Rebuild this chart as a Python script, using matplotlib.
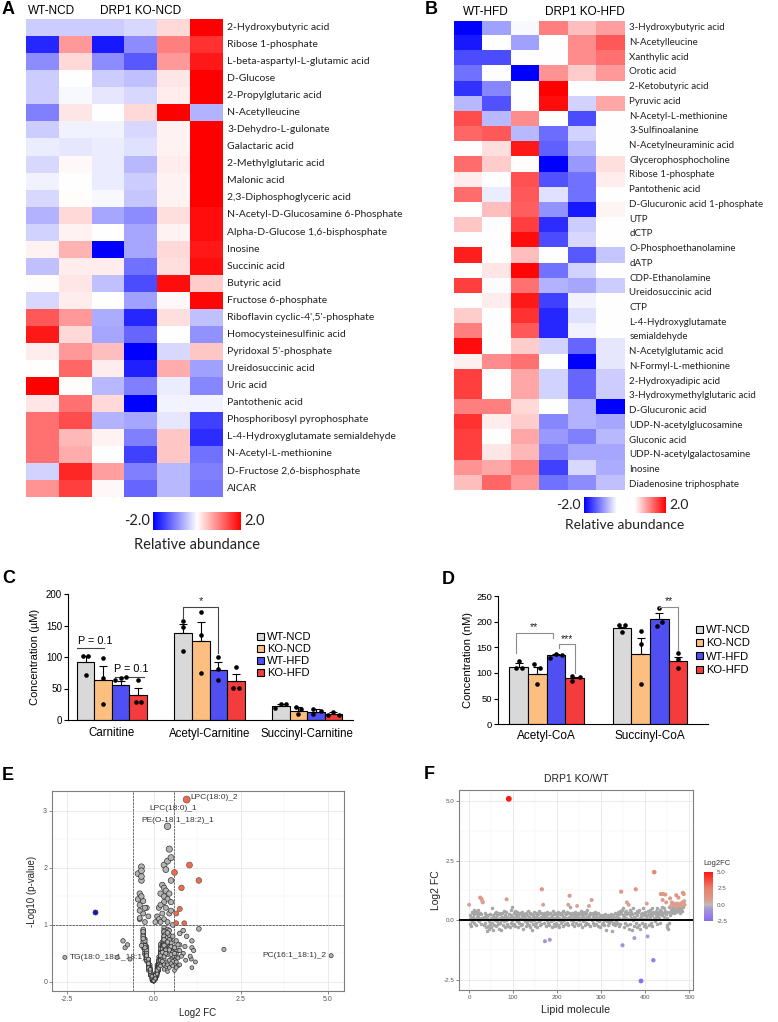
import numpy as np
import matplotlib
matplotlib.use("Agg")
from matplotlib import pyplot as plt
from matplotlib.colors import LinearSegmentedColormap, Normalize
from matplotlib.patches import Patch

plt.rcParams['font.family'] = ['Liberation Sans', 'DejaVu Sans']

# ---------------- data: heatmap A (NCD) ----------------
a_names = ["2-Hydroxybutyric acid", "Ribose 1-phosphate", "L-beta-aspartyl-L-glutamic acid",
           "D-Glucose", "2-Propylglutaric acid", "N-Acetylleucine", "3-Dehydro-L-gulonate",
           "Galactaric acid", "2-Methylglutaric acid", "Malonic acid", "2,3-Diphosphoglyceric acid",
           "N-Acetyl-D-Glucosamine 6-Phosphate", "Alpha-D-Glucose 1,6-bisphosphate", "Inosine",
           "Succinic acid", "Butyric acid", "Fructose 6-phosphate", "Riboflavin cyclic-4',5'-phosphate",
           "Homocysteinesulfinic acid", "Pyridoxal 5'-phosphate", "Ureidosuccinic acid", "Uric acid",
           "Pantothenic acid", "Phosphoribosyl pyrophosphate", "L-4-Hydroxyglutamate semialdehyde",
           "N-Acetyl-L-methionine", "D-Fructose 2,6-bisphosphate", "AICAR"]
a_values = [
    [-0.4, -0.4, -0.4, -0.3, 0.3, 2.0],
    [-1.7, 0.8, -1.8, -0.9, 1.0, 1.6],
    [-0.9, 0.3, -0.9, -1.3, 0.8, 1.8],
    [-0.4, 0.0, -0.4, -0.5, 0.2, 2.0],
    [-0.4, -0.05, -0.2, -0.3, 0.15, 2.0],
    [-1.0, 0.2, 0.0, 0.3, 2.0, -0.6],
    [-0.4, -0.1, -0.1, -0.3, 0.1, 2.0],
    [-0.15, -0.2, -0.15, -0.25, 0.1, 2.0],
    [-0.3, 0.05, -0.15, -0.55, 0.15, 2.0],
    [-0.1, 0.0, -0.15, -0.4, 0.1, 2.0],
    [-0.3, 0.02, -0.05, -0.45, 0.1, 2.0],
    [-0.6, 0.3, -0.7, -0.9, 0.25, 1.9],
    [-0.35, 0.1, 0.0, -0.7, 0.1, 1.9],
    [0.1, 0.6, -2.0, -0.7, 0.3, 1.8],
    [-0.5, 0.15, 0.15, -1.1, 0.25, 1.9],
    [0.03, 0.2, -0.5, -1.4, 1.9, 0.4],
    [-0.3, 0.15, 0.0, -0.75, 0.05, 1.95],
    [1.3, 0.8, -0.65, -1.7, 0.25, -0.5],
    [1.8, 0.3, -0.7, -1.2, 0.0, -0.85],
    [0.15, 0.8, 0.5, -2.0, -0.3, 0.45],
    [0.0, 1.2, 0.15, -1.75, 0.65, -0.75],
    [2.0, 0.02, -0.55, -1.0, -0.15, -0.95],
    [0.2, 1.1, 0.3, -2.0, -0.08, -0.08],
    [1.1, 1.4, -0.6, -0.7, -0.2, -1.5],
    [1.1, 0.55, 0.1, -1.0, 0.45, -1.65],
    [1.1, 0.65, 0.0, -1.5, 0.45, -1.1],
    [-0.35, 1.7, 0.75, -1.0, -0.55, -1.0],
    [0.85, 1.5, 0.05, -1.2, -0.55, -1.05],
]

# ---------------- data: heatmap B (HFD) ----------------
b_names = ["3-Hydroxybutyric acid", "N-Acetylleucine", "Xanthylic acid", "Orotic acid",
           "2-Ketobutyric acid", "Pyruvic acid", "N-Acetyl-L-methionine", "3-Sulfinoalanine",
           "N-Acetylneuraminic acid", "Glycerophosphocholine", "Ribose 1-phosphate",
           "Pantothenic acid", "D-Glucuronic acid 1-phosphate", "UTP", "dCTP",
           "O-Phosphoethanolamine", "dATP", "CDP-Ethanolamine", "Ureidosuccinic acid", "CTP",
           "L-4-Hydroxyglutamate\nsemialdehyde", "N-Acetylglutamic acid", "N-Formyl-L-methionine",
           "2-Hydroxyadipic acid", "3-Hydroxymethylglutaric acid", "D-Glucuronic acid",
           "UDP-N-acetylglucosamine", "Gluconic acid", "UDP-N-acetylgalactosamine", "Inosine",
           "Diadenosine triphosphate"]
b_values = [
    [-2.0, -0.75, -0.05, 1.0, 0.5, 0.75],
    [-1.8, 0.0, -0.75, 0.0, 0.9, 1.3],
    [-1.4, -1.4, 0.0, 0.0, 0.9, 1.1],
    [-1.1, 0.0, -2.0, 0.85, 0.4, 0.8],
    [-1.6, -0.95, 0.0, 2.0, 0.0, 0.0],
    [-0.55, -1.35, 0.0, 1.9, -0.35, 0.7],
    [1.4, -0.55, 0.9, 0.0, -1.4, 0.0],
    [1.2, 1.3, -0.55, -1.15, -0.35, 0.0],
    [0.0, 0.25, 1.8, -1.25, -0.55, 0.0],
    [1.15, 0.4, 0.02, -2.0, -0.8, 0.25],
    [0.15, 0.0, 1.35, -1.35, -1.1, 0.15],
    [1.15, -0.15, 1.3, -0.25, -1.1, 0.0],
    [0.0, 0.5, 1.25, -0.85, -1.8, 0.08],
    [0.45, 0.0, 1.5, -1.65, -0.4, 0.0],
    [0.0, 0.0, 1.9, -1.4, -0.3, 0.0],
    [1.75, 0.0, 0.5, 0.0, -1.3, -0.45],
    [0.0, 0.2, 1.95, -1.1, -0.35, 0.0],
    [1.5, -0.03, 1.1, -0.6, -0.7, -0.4],
    [0.0, 0.15, 1.8, -1.5, -0.1, 0.0],
    [0.4, 0.0, 1.6, -1.7, -0.25, 0.0],
    [1.0, 0.0, 1.3, -1.7, -0.1, 0.0],
    [1.9, 0.0, 0.4, -0.35, -1.2, -0.2],
    [0.12, 0.9, 1.1, 0.0, -2.0, -0.2],
    [1.5, 0.0, 0.7, -0.35, -1.2, -0.4],
    [1.5, 0.0, 0.7, -0.35, -1.2, -0.4],
    [1.0, 1.0, 0.3, 0.0, -0.6, -2.0],
    [1.6, 0.15, 0.4, -0.95, -0.6, -0.7],
    [1.5, 0.0, 0.7, -0.8, -1.0, -0.55],
    [1.5, 0.2, 0.55, -1.0, -0.7, -0.7],
    [0.85, 0.7, 1.0, -1.5, -0.3, -0.65],
    [0.5, 1.2, 0.8, -1.1, -0.9, -0.5],
]

# ---------------- data: bar charts C and D ----------------
conditions = ["WT-NCD", "KO-NCD", "WT-HFD", "KO-HFD"]
cond_colors = ["#d9d9d9", "#fdbf80", "#4f4ff2", "#f43c3c"]

c_groups = ["Carnitine", "Acetyl-Carnitine", "Succinyl-Carnitine"]
c_means = [[92, 63, 56, 39], [138, 126, 79, 62], [23, 15, 12, 9.5]]
c_sems = [[10, 22, 6, 12], [14, 30, 13, 11], [2, 6, 5, 2.5]]
c_dots = [
    [[102, 72, 102], [25, 66, 99], [63, 67, 68], [28, 63, 28]],
    [[157, 110, 148], [74, 172, 135], [63, 100, 81], [51, 84, 51]],
    [[19, 25, 25], [21, 9, 18], [17, 9, 15], [8, 12, 8]],
]

d_groups = ["Acetyl-CoA", "Succinyl-CoA"]
d_means = [[112, 98, 135, 90], [187, 137, 205, 123]]
d_sems = [[7, 13, 2, 3], [3, 32, 12, 9]]
d_dots = [
    [[109, 123, 109], [117, 109, 78], [130, 137, 136], [95, 84, 92]],
    [[194, 179, 194], [181, 157, 78], [192, 227, 199], [138, 127, 109]],
]

# ---------------- data: lipidomics E and F (one value per lipid) ----------------
lipid_log2fc = [
    .65, .2, -.15, .05, -.25, .1, .35, -.05, .15, .3,
    .45, .25, -.1, .4, .05, .3, -.2, .15, .35, 0,
    .2, .45, -.05, .1, .3, .95, .25, -.15, .9, .1,
    .8, .75, .05, -.2, .15, .3, -.1, .05, .2, -.3,
    -.45, .1, -.25, .2, -.05, -.35, 0, .25, -.15, .1,
    -.3, .05, .5, -.1, .2, -.4, .15, -.2, .3, 0,
    .1, -.25, .35, -.05, .2, -.15, .05, .3, -.35, .1,
    .25, -.1, 0, -.4, .15, .3, -.2, .05, .4, -.05,
    .1, -.3, .2, 0, .35, .88, -.15, .15, -.25, .05,
    5.1, .25, -.3, .1, .45, -.1, .2, 0, .55, -.2,
    .15, .3, -.15, .05, .4, -.25, .1, .2, -.05, .35,
    0, -.3, .15, .25, -.1, .05, .3, -.2, .1, .2,
    -.15, .35, .05, -.35, .15, .25, -.05, .1, .3, -.25,
    .05, .2, -.1, .4, 0, -.2, .15, .3, -.3, .1,
    .25, -.05, .05, -.4, .2, .1, -.15, .35, 0, -.25,
    .15, .3, -.1, .05, .2, -.3, .1, .25, -.05, .4,
    0, -.2, .15, .3, -.15, 1.3, .1, .2, .65, -.1,
    .05, .3, -.88, .15, -.25, .2, 0, .35, -.1, .1,
    .25, -.2, .05, -.82, .3, .15, -.05, .2, -.3, .1,
    .4, 0, -.15, .25, .1, -.25, .3, .05, -.1, .2,
    .15, -.2, .35, 0, .1, -.3, .25, .05, -.1, .3,
    .2, -.05, .1, .4, -.25, .15, 0, .3, -.15, .1,
    .25, -.1, .05, .35, -.2, .65, .15, .3, 1.03, .1,
    .55, 0, .2, -.15, .3, .1, -.05, .25, .15, -.25,
    .1, .35, -.1, .2, .05, .6, .3, -.2, .15, 0,
    .25, .1, -.15, .4, .05, -.3, .2, .3, -.05, .15,
    .35, 0, -.2, .25, .1, .3, -.1, .15, .45, .05,
    -.15, .2, .6, .1, .3, -.25, .05, .25, .85, 0,
    .15, -.1, .3, .2, -.2, .1, .35, .05, -.15, .25,
    0, .15, -.25, .3, .1, -.05, .2, .05, -.3, .15,
    .1, -.15, .05, .2, -.1, 0, .15, -.2, .25, .05,
    -.4, .1, -.05, .15, 0, -.2, .2, .05, -.1, .1,
    .15, -.05, 0, .25, -.45, .1, -.15, .2, .05, -.1,
    .1, .3, -.2, 0, .15, -.1, .2, .05, .35, -.25,
    .25, .1, .4, -.15, .3, 1.2, .05, .45, -1.05, .2,
    .5, -.3, .15, .35, -.1, .25, .1, .4, .75, -.2,
    .3, .05, .65, -.35, .2, .45, -.15, .1, .35, -.4,
    .25, 0, .5, -.25, .15, -.75, .3, .1, 1.3, -.1,
    .4, -.3, .2, .05, .35, -.2, .45, .1, -.35, .25,
    -2.55, .15, .3, -.1, .5, .05, -.25, .2, .35, -.15,
    .3, .1, -.3, .7, .2, -.68, .4, .05, -.2, .25,
    .15, .45, -.1, .3, .5, -.25, .2, .35, -1.68, .1,
    2.02, .3, -.05, .4, .15, .25, -.15, .5, .2, .35,
    .1, .3, .45, -.1, .25, 1.1, .4, .2, .55, .85,
    1.1, .3, .5, .15, .4, 1.08, .25, .75, .1, -.3,
    -.2, -.35, .35, -.1, .55, .2, .92, .45, .6, .3,
    .75, .5, .4, .65, .3, .7, .55, .45, .6, .35,
    1.05, .5, .7, .4, .6, .95, .55, .45, .65, .3,
    .7, .5, .6, .4, .75, 1.15, .55, 1.1, .8, .65,
]
lipid_neglog10p = [
    .45, .3, .25, .05, .5, .15, .6, .02, .35, .55,
    .8, .4, .12, 2.73, .08, .7, 1.3, .2, .9, .01,
    .45, .65, .06, .18, .85, 3.2, .5, .3, .62, .1,
    1.65, .85, .04, .4, .28, .62, .15, .1, .38, .7,
    1.9, .22, 1.3, .55, .08, 2.02, .03, .48, .35, .12,
    .85, .07, .72, .2, .42, 1.55, .25, .45, .66, .02,
    .2, .58, .78, .09, .5, .32, .12, .95, 1.78, .16,
    .6, .22, .05, 1.35, .3, .52, .62, .14, .88, .04,
    .26, 1.42, .35, .01, .7, 1.03, .4, .44, .75, .06,
    .46, .56, .9, .24, 2.33, .18, .62, .03, .6, .52,
    .38, .75, .28, .11, .92, .68, .3, .46, .07, .82,
    .02, .6, .32, 1.7, .25, .05, 2.05, .36, .18, .66,
    1.15, .68, .09, 1.95, 1.3, .42, .05, 1.15, .58, .48,
    .13, .52, .3, 2.12, .04, .55, 1.1, .8, 1.2, .21,
    .7, .1, 1.05, 1.25, .4, .27, .33, 1.97, .06, .62,
    .34, 1.65, .16, .08, .58, .78, .14, .64, .03, .74,
    .05, .42, .4, .5, .2, 1.78, .19, .3, 1.03, .26,
    .1, .9, .72, .22, 1.05, .45, .02, 1.6, .12, .28,
    .55, .58, .15, .6, .68, .26, .08, 1.55, .82, .17,
    .85, .03, .38, .46, .15, .65, 1.5, .06, .24, .36,
    .3, .48, .6, .02, .23, .92, .5, .11, .18, .72,
    .42, .06, .2, 1.45, .55, .36, .04, 1.4, .27, .13,
    .62, .14, .07, 1.3, .5, .5, .28, .88, 2.05, .2,
    1.0, .01, 1.35, .3, .64, .16, .05, 1.2, .35, .52,
    .25, .76, .2, .44, .1, 1.92, 1.1, .4, .24, .03,
    .4, .18, .22, 1.05, .09, .74, 1.05, .58, .04, .3,
    .65, .02, .52, .54, .22, .46, .16, .38, 1.2, .12,
    .3, .5, .38, .14, .7, .58, .08, .44, .9, .05,
    .2, .12, .56, .34, .46, .24, .72, .06, .36, .6,
    .03, .33, .6, .78, .11, .07, .48, .13, .66, .26,
    .19, .27, .04, .38, .2, .01, .3, .44, .52, .09,
    1.1, .15, .05, .24, .02, .38, .4, .1, .17, .21,
    .32, .08, .03, .48, 1.45, .2, .34, .36, .12, .23,
    .14, .6, .5, .04, .29, .13, .42, .07, .84, .56,
    .52, .18, .68, .26, .8, .35, .1, .9, .43, .4,
    2.18, .7, .22, .7, .15, .46, .16, .62, 1.28, .55,
    .66, .08, 1.2, 1.85, .34, 1.55, .25, .2, .74, 1.12,
    .58, .02, 1.4, .64, .36, .65, .54, .17, .93, .2,
    .78, .88, .32, .1, .62, .42, .82, .24, 1.5, .4,
    .43, .28, .74, .18, 1.25, .06, .72, .5, .58, .4,
    .62, .22, .8, .55, .36, .4, .7, .12, .5, .45,
    .3, .74, .22, .5, 1.78, .6, .38, .66, 1.23, .16,
    .57, .48, .1, .86, .26, .42, .32, .68, .46, .56,
    .2, .64, .58, .18, .52, .72, .48, .3, .8, .5,
    .6, .4, .62, .24, .7, .4, .36, .65, .14, .76,
    .46, .64, .5, .22, .45, .28, .38, .56, .3, .44,
    .55, .4, .34, .72, .3, .28, .52, .38, .6, .26,
    .45, .48, .42, .3, .2, .8, .36, .25, .35, .22,
    .65, .32, .5, .18, .3, .55, .28, .25, .45, .25,
]
fc_cut = 0.585   # log2(1.5)
p_cut = 1.0      # p = 0.1

# ---------------- figure ----------------
W, H = 778, 1022
fig = plt.figure(figsize=(W / 100, H / 100), dpi=100)


def px_axes(l, t, r, b):
    return fig.add_axes([l / W, 1 - b / H, (r - l) / W, (b - t) / H])


def px_text(x, y, s, **kw):
    kw.setdefault("va", "center")
    fig.text(x / W, 1 - y / H, s, **kw)


heat_cmap = LinearSegmentedColormap.from_list("heat", ["#0000ff", "#ffffff", "#ff0000"])
scale_cmap_b = LinearSegmentedColormap.from_list(
    "heat_gap", [(0, "#0000ff"), (0.4, "#ffffff"), (0.62, "#ffffff"), (1, "#ff0000")])


def draw_heatmap(ax, values, labels, label_pos, fs):
    vals = np.array(values)
    ax.imshow(vals, cmap=heat_cmap, vmin=-2, vmax=2, aspect="auto", interpolation="nearest",
              extent=(0, vals.shape[1], vals.shape[0], 0))
    ax.set_xticks([])
    ax.yaxis.tick_right()
    ax.set_yticks(label_pos)
    ax.set_yticklabels(labels, fontsize=fs, family="Lato", color="#222222")
    ax.tick_params(axis="y", length=0, pad=3)
    ax.set_ylim(vals.shape[0], 0)
    for s in ax.spines.values():
        s.set_visible(False)


def draw_scale(l, t, r, b, cmap, fs, title_y):
    ax = px_axes(l, t, r, b)
    ax.imshow(np.linspace(-2, 2, 256)[None, :], cmap=cmap, vmin=-2, vmax=2, aspect="auto")
    ax.axis("off")
    px_text(l - 3, (t + b) / 2, "-2.0", ha="right", fontsize=fs, family="Lato", color="#222222")
    px_text(r + 3, (t + b) / 2, "2.0", ha="left", fontsize=fs, family="Lato", color="#222222")
    px_text((l + r) / 2, title_y, "Relative abundance", ha="center", fontsize=fs,
            family="Lato", color="#222222")


# A
ax_a = px_axes(26, 19, 223, 497)
draw_heatmap(ax_a, a_values, a_names, np.arange(len(a_names)) + 0.42, 7.5)
px_text(28, 11, "WT-NCD", fontsize=8.5)
px_text(100, 11, "DRP1 KO-NCD", fontsize=8.5)
draw_scale(153, 512, 241, 530, heat_cmap, 10.5, 545)

# B
ax_b = px_axes(454, 20.7, 625, 490)
b_lines = [ln for nm in b_names for ln in nm.split("\n")]
draw_heatmap(ax_b, b_values, b_lines, np.linspace(0.4, 30.55, len(b_lines)), 7.0)
px_text(463, 12, "WT-HFD", fontsize=8.5)
px_text(545, 12, "DRP1 KO-HFD", fontsize=8.5)
draw_scale(584, 497, 666, 513, scale_cmap_b, 10, 525)

# panel letters
for letter, x, y in [("A", 2, 10), ("B", 425, 10), ("C", 2, 578), ("D", 442, 579),
                     ("E", 2, 776), ("F", 424, 774)]:
    px_text(x, y, letter, fontsize=13, fontweight="bold")

bar_w = 0.18


def spread(vals, tol):
    offs = np.zeros(len(vals))
    for i in range(len(vals)):
        near = [j for j in range(len(vals)) if abs(vals[j] - vals[i]) < tol]
        if len(near) > 1:
            offs[i] = (near.index(i) - (len(near) - 1) / 2) * 0.055
    return offs


def draw_bars(ax, groups, means, sems, dots, tol):
    for gi in range(len(groups)):
        for ci in range(len(conditions)):
            x = gi + (ci - 1.5) * bar_w
            m = means[gi][ci]
            ax.bar(x, m, width=bar_w, color=cond_colors[ci], edgecolor="black",
                   linewidth=0.8, zorder=2)
            ax.errorbar(x, m, yerr=[[0], [sems[gi][ci]]], fmt="none", ecolor="black",
                        elinewidth=0.8, capsize=2.6, capthick=0.8, zorder=3)
            vals = dots[gi][ci]
            ax.scatter(x + spread(vals, tol), vals, s=11, color="black", zorder=4,
                       linewidths=0, clip_on=False)
    ax.set_xticks(range(len(groups)))
    ax.set_xticklabels(groups, fontsize=8.3)
    ax.tick_params(axis="x", length=0)
    ax.tick_params(axis="y", labelsize=7, length=3, width=0.8, pad=1.2)
    for s in ["top", "right"]:
        ax.spines[s].set_visible(False)
    for s in ["left", "bottom"]:
        ax.spines[s].set_linewidth(0.8)


def bracket(ax, x1, x2, y, y1, y2, label, color, fs):
    ax.plot([x1, x1, x2, x2], [y1, y, y, y2], color=color, lw=0.8, zorder=5)
    ax.text((x1 + x2) / 2, y + 1, label, ha="center", va="bottom", fontsize=fs, color="#222222")


def bar_x(gi, ci):
    return gi + (ci - 1.5) * bar_w


# C
ax_c = px_axes(68, 594, 353, 720)
draw_bars(ax_c, c_groups, c_means, c_sems, c_dots, 7)
ax_c.set_xlim(-0.45, 2.47)
ax_c.set_ylim(0, 200)
ax_c.set_yticks([0, 50, 100, 150, 200])
ax_c.tick_params(axis="x", pad=5.4)
ax_c.set_ylabel("Concentration (\u00b5M)", fontsize=8)
ax_c.yaxis.set_label_coords(-0.1, 0.5)
bracket(ax_c, bar_x(1, 0), bar_x(1, 2), 180, 162, 106, "*", "#444444", 8)
ax_c.plot([-0.355, -0.08], [114, 114], color="#444444", lw=0.8)
ax_c.text(-0.17, 118, "P = 0.1", ha="center", va="bottom", fontsize=7.8)
ax_c.plot([0.03, 0.33], [69, 69], color="#444444", lw=0.8)
ax_c.text(0.2, 73, "P = 0.1", ha="center", va="bottom", fontsize=7.8)
handles = [Patch(facecolor=c, edgecolor="black", linewidth=0.8) for c in cond_colors]
ax_c.legend(handles, conditions, loc="upper left", bbox_to_anchor=(257 / W, 1 - 632 / H),
            bbox_transform=fig.transFigure, frameon=False, fontsize=8, handlelength=0.6,
            handleheight=0.6, handletextpad=0.3, labelspacing=0.18, borderpad=0,
            borderaxespad=0)

# D
ax_d = px_axes(498, 596, 708, 724.3)
draw_bars(ax_d, d_groups, d_means, d_sems, d_dots, 9)
ax_d.set_xlim(-0.47, 1.56)
ax_d.set_ylim(0, 250)
ax_d.set_yticks([0, 50, 100, 150, 200, 250])
ax_d.tick_params(axis="y", labelsize=6.8)
ax_d.tick_params(axis="x", pad=4.4, labelsize=8.5)
ax_d.set_ylabel("Concentration (nM)", fontsize=8)
ax_d.yaxis.set_label_coords(-0.12, 0.5)
bracket(ax_d, bar_x(0, 0) - 0.03, bar_x(0, 2) - 0.03, 178, 138, 169, "**", "#8c8c8c", 7.5)
bracket(ax_d, bar_x(0, 2) + 0.03, bar_x(0, 3), 156, 148, 99, "***", "#8c8c8c", 7.5)
bracket(ax_d, bar_x(1, 2), bar_x(1, 3), 229, 226, 145, "**", "#8c8c8c", 7.5)
ax_d.legend(handles, conditions, loc="upper left", bbox_to_anchor=(696 / W, 1 - 625 / H),
            bbox_transform=fig.transFigure, frameon=False, fontsize=8, handlelength=0.6,
            handleheight=0.6, handletextpad=0.3, labelspacing=0.3, borderpad=0,
            borderaxespad=0)

fc = np.array(lipid_log2fc)
lp = np.array(lipid_neglog10p)


def gg_axes(ax, xmaj, xmin, ymaj, ymin, xfmt, yfmt, fs):
    ax.set_xticks(xmaj)
    ax.set_xticks(xmin, minor=True)
    ax.set_yticks(ymaj)
    ax.set_yticks(ymin, minor=True)
    ax.set_xticklabels([xfmt.format(v) for v in xmaj])
    ax.set_yticklabels([yfmt.format(v) for v in ymaj])
    ax.grid(which="major", color="#e6e6e6", lw=0.6)
    ax.grid(which="minor", color="#f2f2f2", lw=0.35)
    ax.set_axisbelow(True)
    ax.tick_params(which="major", labelsize=fs, labelcolor="#555555", length=2,
                   width=0.5, color="#555555", pad=1.5)
    ax.tick_params(which="minor", length=0)
    for s in ax.spines.values():
        s.set_color("#7f7f7f")
        s.set_linewidth(0.8)


# E volcano
ax_e = px_axes(52, 791, 344, 991)
up = (fc > fc_cut) & (lp > p_cut)
down = (fc < -fc_cut) & (lp > p_cut)
rest = ~(up | down)
sizes = 6 + 6 * lp
ax_e.scatter(fc[rest], lp[rest], s=sizes[rest], c="#b3b3b3", edgecolors="#262626",
             linewidths=0.45, zorder=3)
ax_e.scatter(fc[up], lp[up], s=sizes[up], c="#f4694b", edgecolors="#555555",
             linewidths=0.45, zorder=4)
ax_e.scatter(fc[down], lp[down], s=sizes[down], c="#1414c8", edgecolors="#333333",
             linewidths=0.45, zorder=4)
for xv in (-fc_cut, fc_cut):
    ax_e.axvline(xv, color="#555555", lw=0.6, ls=(0, (3, 1)), zorder=2)
ax_e.axhline(p_cut, color="#555555", lw=0.6, ls=(0, (3, 1)), zorder=2)
ax_e.set_xlim(-2.92, 5.47)
ax_e.set_ylim(-0.16, 3.35)
gg_axes(ax_e, [-2.5, 0, 2.5, 5], [-1.25, 1.25, 3.75], [0, 1, 2, 3], [0.5, 1.5, 2.5],
        "{:.1f}", "{:.0f}", 5)
ann = dict(fontsize=6, color="#333333", va="center", zorder=2)
ax_e.text(1.07, 3.24, "LPC(18:0)_2", ha="left", **ann)
ax_e.text(0.55, 3.05, "LPC(18:0)_1", ha="center", **ann)
ax_e.text(0.68, 2.84, "PE(O-18:1_18:2)_1", ha="center", **ann)
ax_e.text(-2.42, 0.43, "TG(18:0_18:1_18:1)", ha="left", **ann)
ax_e.text(4.97, 0.46, "PC(16:1_18:1)_2", ha="right", **ann)
ax_e.set_xlabel("Log2 FC", fontsize=7, color="#222222")
ax_e.xaxis.set_label_coords(0.5, -0.085)
ax_e.set_ylabel("-Log10 (p-value)", fontsize=7, color="#222222")
ax_e.yaxis.set_label_coords(-0.05, 0.5)

# F Manhattan-style
fc_cmap = LinearSegmentedColormap.from_list(
    "fc", [(0, "#8c6cf0"), (0.253, "#a99ad6"), (0.333, "#bdbdbd"), (0.413, "#dba08f"),
           (0.667, "#e8806c"), (1, "#ff1a10")])
fc_norm = Normalize(-2.5, 5)
ax_f = px_axes(459, 790, 693, 990)
mol = np.arange(len(fc))
colored = np.abs(fc) > fc_cut
ax_f.scatter(mol[~colored], fc[~colored], s=6.5, c="#a6a6a6", linewidths=0, zorder=3)
ax_f.scatter(mol[colored], fc[colored], s=6.5 + 2.2 * np.abs(fc[colored]), c=fc[colored],
             cmap=fc_cmap, norm=fc_norm, linewidths=0, zorder=4)
ax_f.axhline(0, color="black", lw=1.4, zorder=5)
ax_f.set_xlim(-23, 508)
ax_f.set_ylim(-2.93, 5.47)
gg_axes(ax_f, [0, 100, 200, 300, 400, 500], [50, 150, 250, 350, 450],
        [-2.5, 0, 2.5, 5], [-1.25, 1.25, 3.75], "{:.0f}", "{:.1f}", 4.5)
ax_f.set_title("DRP1 KO/WT", fontsize=7.5, color="#222222", pad=6)
ax_f.set_xlabel("Lipid molecule", fontsize=7.7, color="#222222")
ax_f.xaxis.set_label_coords(0.5, -0.075)
ax_f.set_ylabel("Log2 FC", fontsize=7.5, color="#222222")
ax_f.yaxis.set_label_coords(-0.075, 0.5)

ax_fc = px_axes(704, 872, 713, 921)
ax_fc.imshow(np.linspace(-2.5, 5, 256)[:, None], cmap=fc_cmap, norm=fc_norm, aspect="auto",
             origin="lower", extent=(0, 1, -2.5, 5))
ax_fc.set_xticks([])
ax_fc.yaxis.tick_right()
ax_fc.set_yticks([-2.5, 0, 2.5, 5])
ax_fc.set_yticklabels(["-2.5", "0.0", "2.5", "5.0"])
ax_fc.tick_params(axis="y", labelsize=4.5, labelcolor="#555555", length=1.5, color="white",
                  pad=1.5)
for s in ax_fc.spines.values():
    s.set_visible(False)
px_text(703, 863, "Log2FC", fontsize=5.5, color="#333333")

fig.savefig("out.png", dpi=100, facecolor="white")
